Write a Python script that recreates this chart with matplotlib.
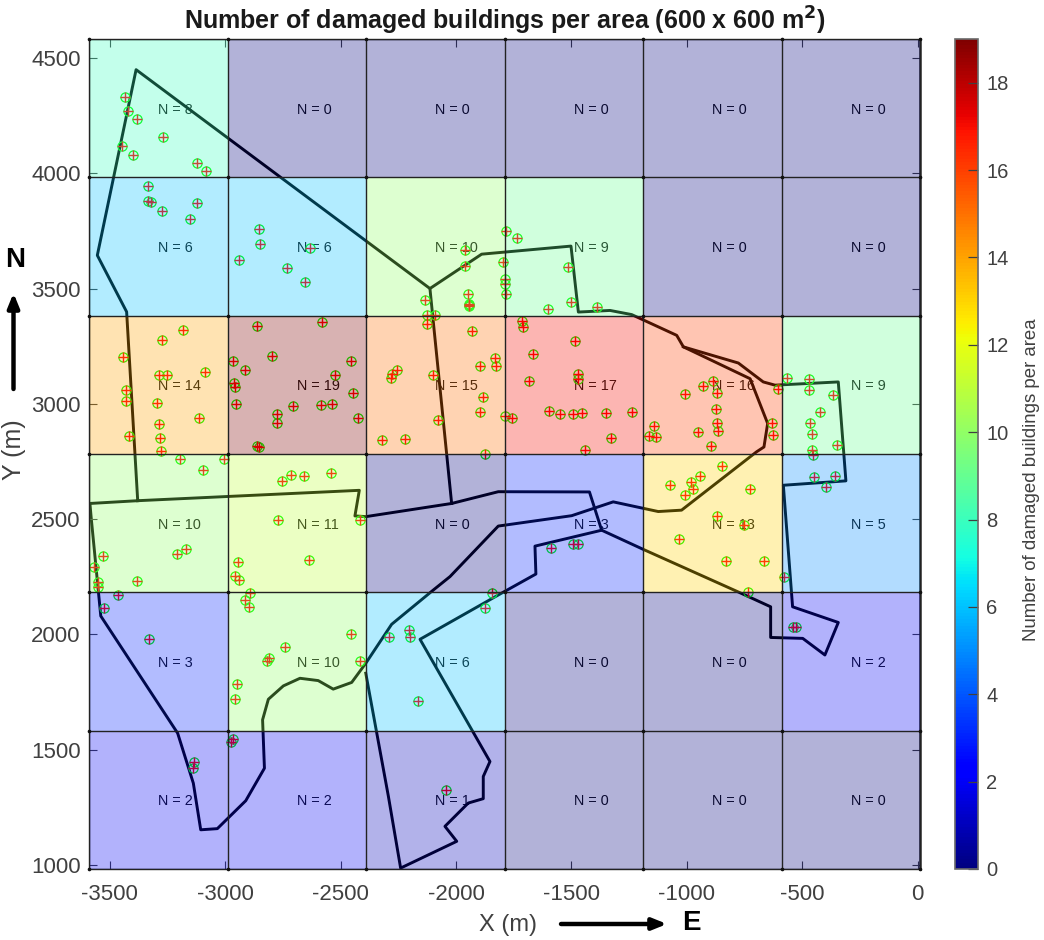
import matplotlib
matplotlib.use("Agg")
import numpy as np
import matplotlib.pyplot as plt
from matplotlib.cm import ScalarMappable
from matplotlib.colors import Normalize

plt.rcParams['font.family'] = ['Liberation Sans', 'DejaVu Sans']
plt.rcParams['axes.unicode_minus'] = False

x_edges = [-3590, -2990, -2390, -1790, -1190, -590, 10]
y_edges = [983, 1582, 2182, 2782, 3382, 3982, 4582]

# building counts, bottom row first
counts = [
    [2, 2, 1, 0, 0, 0],
    [3, 10, 6, 0, 0, 2],
    [10, 11, 0, 3, 13, 5],
    [14, 19, 15, 17, 16, 9],
    [6, 6, 10, 9, 0, 0],
    [8, 0, 0, 0, 0, 0],
]

bld_x = [-3433,-3421,-3381,-3271,-3446,-3398,-3121,-3083,
         -3334,-3333,-3323,-3275,-3121,-3154,
         -2855,-2848,-2942,-2631,-2734,-2653,
         -1961,-1961,-2136,-1950,-1942,-1942,-1942,-2127,-2091,
         -1785,-1737,-1795,-1515,-1788,-1788,-1783,-1500,-1603,-1388,
         -1713,-1710,-1485,-1667,-1682,-1472,-1472,-1597,-1550,-1495,-1456,-1350,-1238,-1327,-1443,-1789,-1756,
         -885,-932,-871,-1010,-874,-868,-865,-950,-1141,-1163,-1134,-894,-631,-627,-604,
         -568,-471,-471,-365,-422,-467,-459,-351,-458,-454,
         -3181,-3272,-3443,-3288,-3251,-3087,-3430,-3430,-3295,-3115,-3288,-3418,-3282,-3278,
         -2861,-2579,-2965,-2913,-2797,-2455,-2523,-2960,-2956,-2445,-2952,-2706,-2586,-2536,-2776,-2774,-2423,-2864,-2852,
         -2127,-1932,-1833,-1827,-1896,-2257,-2276,-2283,-2101,-1883,-1896,-2080,-2321,-2222,-1873,
         -3194,-3004,-3096,-3531,-3568,-3170,-3209,-3550,-3550,-3381,
         -2752,-2715,-2657,-2540,-2770,-2415,-2946,-2638,-2959,-2940,-2891,
         -846,-945,-982,-1075,-972,-1008,-728,-869,-752,-1034,-829,-664,-737,
         -448,-360,-397,-579,
         -1590,-1492,-1472,
         -539,-527,
         -3524,-3463,-3330,
         -2916,-2897,-2455,-2742,-2809,-2817,-2415,-2950,-2958,
         -2965,-2975,-3134,-3138,
         -2289,-2202,-2201,-2163,-1876,-1844,
         -2042]
bld_y = [4330,4268,4236,4155,4116,4080,4043,4011,
         3943,3880,3877,3838,3870,3800,
         3758,3695,3623,3675,3591,3527,
         3666,3597,3452,3478,3435,3429,3423,3387,3387,
         3748,3719,3616,3593,3543,3518,3478,3442,3413,3420,
         3359,3333,3274,3216,3101,3131,3109,2969,2955,2954,2961,2962,2965,2854,2799,2948,2939,
         3098,3078,3049,3044,2978,2917,2883,2880,2904,2860,2857,2818,2917,2863,3063,
         3114,3109,3062,3037,2964,2917,2871,2822,2802,2777,
         3322,3277,3205,3123,3123,3140,3062,3013,3002,2937,2912,2860,2854,2794,
         3338,3355,3184,3146,3207,3184,3127,3091,3071,3045,3000,2992,2997,3000,2955,2918,2937,2817,2815,
         3345,3315,3200,3162,3162,3146,3129,3110,3124,3031,2964,2928,2843,2846,2782,
         2761,2761,2714,2342,2291,2371,2350,2229,2207,2232,
         2664,2693,2688,2698,2495,2496,2314,2324,2255,2236,2179,
         2731,2688,2663,2650,2630,2604,2629,2513,2476,2412,2320,2320,2182,
         2683,2689,2640,2249,
         2374,2392,2392,
         2034,2031,
         2116,2171,1982,
         2151,2118,2001,1946,1898,1885,1885,1786,1722,
         1545,1533,1449,1423,
         1991,2020,1987,1712,2115,2179,
         1325]

north_x = [-3586,-3379,-2419,-2438,-2390,-2019,-1817,-1422,-1369,-1189,-770,-637,-637,-498,-402,-344,-542,-582,-311,-344,-618,-669,-777,-1015,-1044,-1239,-1333,-1470,-1502,-1889,-2113,-3386,-3554,-3427,-3379]
north_y = [2568,2580,2625,2514,2511,2568,2619,2618,2452,2369,2181,2120,1987,1983,1911,2052,2120,2647,2666,3095,3081,3095,3177,3247,3297,3387,3405,3398,3684,3649,3500,4449,3644,3399,2580]

link_x = [-2113,-2019]
link_y = [3500,2568]

middle_x = [-1015,-726,-650,-666,-698,-1023,-1124,-1319,-1499,-1817,-2026,-2098,-2279,-2391,-2452,-2532,-2597,-2676,-2748,-2813,-2838,-2830,-2911,-3034,-3106,-3138,-3206,-3539,-3581,-3586]
middle_y = [3247,3109,2915,2813,2792,2539,2533,2575,2515,2470,2251,2193,2044,1875,1792,1763,1800,1810,1777,1719,1630,1420,1279,1158,1153,1355,1572,2080,2511,2568]

south_x = [-1369,-1658,-1654,-1810,-2156,-1853,-1882,-1882,-1947,-2048,-1997,-2240,-2293,-2391]
south_y = [2452,2383,2262,2175,1979,1449,1384,1288,1269,1168,1103,987,1298,1832]

W, H = 1044, 940
fig = plt.figure(figsize=(W / 100, H / 100), dpi=100, facecolor='white')
ax = fig.add_axes([89 / W, (H - 869) / H, 831 / W, 830 / H])
cax = fig.add_axes([955 / W, (H - 869) / H, 23 / W, 830 / H])
GREY = '#404040'
norm = Normalize(0, 19)

for i, row in enumerate(counts):
    for j, n in enumerate(row):
        ax.text(x_edges[j] + 300, (y_edges[i] + y_edges[i + 1]) / 2 - 6, f'N = {n}',
                ha='left', va='center', fontsize=10.4, color='#111111', zorder=1)

for lx, ly in [(north_x, north_y), (link_x, link_y), (middle_x, middle_y), (south_x, south_y)]:
    ax.plot(lx, ly, color='black', lw=2.1, zorder=1.5, solid_joinstyle='round')

ax.plot(bld_x, bld_y, 'o', mfc='none', mec='#00ff00', ms=6.6, mew=0.9, ls='none', zorder=2)
ax.plot(bld_x, bld_y, '+', color='#ff0000', ms=6.6, mew=1.0, ls='none', zorder=2.1)

ax.pcolormesh(x_edges, y_edges, np.array(counts), cmap='jet', norm=norm, alpha=0.3,
              shading='flat', zorder=3, edgecolors='none', linewidth=0)
ax.vlines(x_edges, y_edges[0], y_edges[-1], color='#222222', lw=1.0, zorder=4)
ax.hlines(y_edges, x_edges[0], x_edges[-1], color='#222222', lw=1.0, zorder=4)
gx, gy = np.meshgrid(x_edges, y_edges)
ax.plot(gx.ravel(), gy.ravel(), 'o', color='#111111', ms=1.6, ls='none', zorder=4, clip_on=False)

ax.set_xlim(-3590, 10)
ax.set_ylim(983, 4582)
ax.set_xticks(range(-3500, 1, 500))
ax.set_yticks(range(1000, 4501, 500))
ax.tick_params(direction='in', top=True, right=True, length=6, width=0.8, color=GREY,
               labelcolor=GREY, labelsize=16, pad=6)
ax.tick_params(axis='x', pad=11)
for s, sp in ax.spines.items():
    sp.set_color('#222222')
    sp.set_linewidth(1.0)
ax.spines['right'].set_linewidth(1.8)

sm = ScalarMappable(norm=norm, cmap='jet')
cb = fig.colorbar(sm, cax=cax)
cb.set_ticks(range(0, 19, 2))
cb.ax.tick_params(direction='in', length=7, width=0.9, color=GREY, labelcolor=GREY, labelsize=14.5, pad=6)
cb.outline.set_edgecolor('#6a6a6a')
cb.outline.set_linewidth(1.2)
fig.text(1032 / W, 1 - 480 / H, 'Number of damaged buildings per area', rotation=90,
         ha='center', va='center', fontsize=13.4, color=GREY)

fig.text(505 / W, 1 - 21 / H, 'Number of damaged buildings per area (600 x 600 m$\\mathbf{^2}$)',
         ha='center', va='center', fontsize=18, fontweight='bold', color='#1a1a1a',
         math_fontfamily='custom')
fig.text(508 / W, 1 - 925 / H, 'X (m)', ha='center', va='center', fontsize=17, color=GREY)
fig.text(14 / W, 1 - 450 / H, 'Y (m)', rotation=90, ha='center', va='center', fontsize=18, color=GREY)
fig.text(691 / W, 1 - 923 / H, 'E', ha='center', va='center', fontsize=20, fontweight='bold', color='black')
fig.text(15 / W, 1 - 260 / H, 'N', ha='center', va='center', fontsize=20, fontweight='bold', color='black')

arrow = dict(arrowstyle='-|>,head_width=0.17,head_length=0.42', color='black', lw=3.2,
             shrinkA=0, shrinkB=0, mutation_scale=20)
ax.annotate('', xy=(667 / W, 1 - 924 / H), xytext=(561 / W, 1 - 924 / H),
            xycoords='figure fraction', textcoords='figure fraction', arrowprops=arrow, annotation_clip=False)
ax.annotate('', xy=(13.5 / W, 1 - 293 / H), xytext=(13.5 / W, 1 - 389 / H),
            xycoords='figure fraction', textcoords='figure fraction', arrowprops=arrow, annotation_clip=False)

fig.savefig('out.png', dpi=100, facecolor='white')
